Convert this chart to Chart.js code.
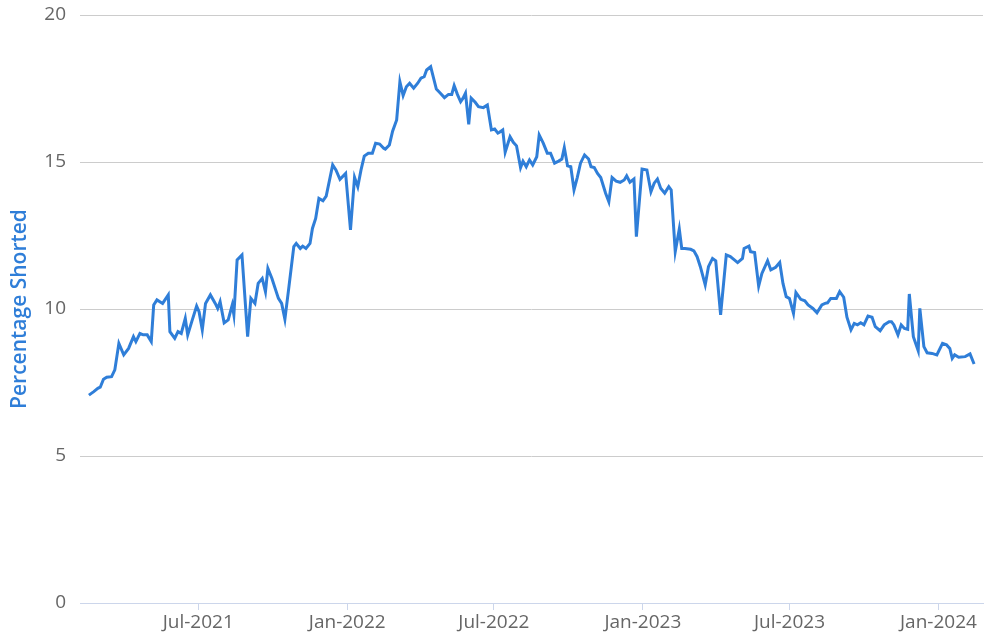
<!DOCTYPE html>
<html>
<head>
<meta charset="utf-8">
<script src="https://cdn.jsdelivr.net/npm/chart.js@4"></script>
<style>
  html, body { margin: 0; padding: 0; background: #fff; }
  #wrap { width: 1000px; height: 636px; }
</style>
</head>
<body>
<div id="wrap"><canvas id="myChart" width="1000" height="636"></canvas></div>
<script>
// Short interest readings
const dates = [
    "2021-02-16", "2021-02-22", "2021-02-27", "2021-03-02", "2021-03-06", "2021-03-10", "2021-03-16", "2021-03-20",
    "2021-03-25", "2021-03-31", "2021-04-06", "2021-04-12", "2021-04-15", "2021-04-20", "2021-04-24", "2021-04-29",
    "2021-05-04", "2021-05-07", "2021-05-11", "2021-05-18", "2021-05-25", "2021-05-27", "2021-06-02", "2021-06-06",
    "2021-06-10", "2021-06-15", "2021-06-18", "2021-06-23", "2021-06-29", "2021-07-02", "2021-07-06", "2021-07-10",
    "2021-07-16", "2021-07-22", "2021-07-25", "2021-07-28", "2021-08-02", "2021-08-07", "2021-08-12", "2021-08-14",
    "2021-08-18", "2021-08-24", "2021-08-31", "2021-09-04", "2021-09-09", "2021-09-13", "2021-09-18", "2021-09-22",
    "2021-09-25", "2021-09-30", "2021-10-08", "2021-10-12", "2021-10-16", "2021-10-21", "2021-10-27", "2021-10-30",
    "2021-11-04", "2021-11-07", "2021-11-11", "2021-11-16", "2021-11-19", "2021-11-23", "2021-11-27", "2021-12-02",
    "2021-12-06", "2021-12-14", "2021-12-18", "2021-12-23", "2021-12-30", "2022-01-05", "2022-01-10", "2022-01-14",
    "2022-01-18", "2022-01-22", "2022-01-27", "2022-02-01", "2022-02-05", "2022-02-10", "2022-02-15", "2022-02-17",
    "2022-02-22", "2022-02-26", "2022-03-03", "2022-03-07", "2022-03-11", "2022-03-15", "2022-03-19", "2022-03-24",
    "2022-03-29", "2022-04-02", "2022-04-06", "2022-04-09", "2022-04-14", "2022-04-21", "2022-04-26", "2022-05-01",
    "2022-05-06", "2022-05-10", "2022-05-13", "2022-05-17", "2022-05-21", "2022-05-24", "2022-05-27", "2022-05-31",
    "2022-06-03", "2022-06-08", "2022-06-12", "2022-06-18", "2022-06-23", "2022-06-28", "2022-07-02", "2022-07-06",
    "2022-07-08", "2022-07-12", "2022-07-15", "2022-07-21", "2022-07-25", "2022-07-29", "2022-08-03", "2022-08-06",
    "2022-08-10", "2022-08-14", "2022-08-18", "2022-08-23", "2022-08-26", "2022-08-31", "2022-09-05", "2022-09-09",
    "2022-09-14", "2022-09-19", "2022-09-23", "2022-09-26", "2022-09-30", "2022-10-04", "2022-10-08", "2022-10-12",
    "2022-10-16", "2022-10-21", "2022-10-26", "2022-10-29", "2022-11-02", "2022-11-06", "2022-11-10", "2022-11-16",
    "2022-11-20", "2022-11-24", "2022-11-29", "2022-12-04", "2022-12-09", "2022-12-12", "2022-12-16", "2022-12-21",
    "2022-12-24", "2022-12-31", "2023-01-06", "2023-01-11", "2023-01-15", "2023-01-19", "2023-01-23", "2023-01-28",
    "2023-02-02", "2023-02-05", "2023-02-10", "2023-02-15", "2023-02-18", "2023-02-22", "2023-03-01", "2023-03-05",
    "2023-03-09", "2023-03-13", "2023-03-19", "2023-03-23", "2023-03-28", "2023-04-01", "2023-04-07", "2023-04-14",
    "2023-04-19", "2023-04-24", "2023-04-28", "2023-05-04", "2023-05-06", "2023-05-12", "2023-05-14", "2023-05-19",
    "2023-05-24", "2023-05-28", "2023-06-04", "2023-06-08", "2023-06-14", "2023-06-19", "2023-06-23", "2023-06-27",
    "2023-07-01", "2023-07-06", "2023-07-09", "2023-07-15", "2023-07-20", "2023-07-24", "2023-07-30", "2023-08-04",
    "2023-08-10", "2023-08-14", "2023-08-17", "2023-08-21", "2023-08-28", "2023-09-01", "2023-09-06", "2023-09-10",
    "2023-09-15", "2023-09-19", "2023-09-23", "2023-09-27", "2023-10-01", "2023-10-06", "2023-10-11", "2023-10-15",
    "2023-10-21", "2023-10-26", "2023-11-01", "2023-11-04", "2023-11-07", "2023-11-12", "2023-11-16", "2023-11-20",
    "2023-11-24", "2023-11-26", "2023-12-01", "2023-12-07", "2023-12-09", "2023-12-14", "2023-12-18", "2023-12-24",
    "2023-12-30", "2024-01-06", "2024-01-11", "2024-01-15", "2024-01-18", "2024-01-21", "2024-01-26", "2024-02-03",
    "2024-02-09", "2024-02-14"
];

const shorted = [
    7.07, 7.19, 7.30, 7.34, 7.61, 7.68, 7.70, 7.93,
    8.83, 8.44, 8.66, 9.06, 8.89, 9.17, 9.12, 9.12,
    8.89, 10.14, 10.31, 10.19, 10.48, 9.23, 9.00, 9.23,
    9.17, 9.68, 9.12, 9.57, 10.10, 9.91, 9.29, 10.19,
    10.48, 10.19, 10.02, 10.25, 9.53, 9.63, 10.14, 9.80,
    11.67, 11.84, 9.06, 10.36, 10.19, 10.87, 11.04, 10.59,
    11.38, 11.04, 10.36, 10.19, 9.65, 10.76, 12.12, 12.23,
    12.06, 12.14, 12.06, 12.23, 12.74, 13.08, 13.76, 13.68,
    13.84, 14.90, 14.73, 14.41, 14.61, 12.69, 14.48, 14.16,
    14.73, 15.20, 15.30, 15.30, 15.64, 15.61, 15.47, 15.44,
    15.58, 16.05, 16.43, 17.73, 17.26, 17.56, 17.68, 17.51,
    17.68, 17.85, 17.90, 18.13, 18.24, 17.48, 17.34, 17.19,
    17.30, 17.30, 17.60, 17.30, 17.05, 17.17, 17.34, 16.28,
    17.17, 17.03, 16.88, 16.85, 16.94, 16.09, 16.12, 15.98,
    16.01, 16.09, 15.33, 15.86, 15.67, 15.55, 14.81, 15.03,
    14.84, 15.07, 14.90, 15.18, 15.92, 15.64, 15.30, 15.30,
    14.96, 15.03, 15.10, 15.49, 14.87, 14.84, 14.05, 14.47,
    14.96, 15.24, 15.10, 14.84, 14.81, 14.61, 14.47, 13.94,
    13.65, 14.47, 14.35, 14.31, 14.39, 14.53, 14.31, 14.42,
    12.46, 14.76, 14.73, 13.99, 14.28, 14.42, 14.11, 13.94,
    14.16, 14.05, 11.95, 12.72, 12.06, 12.06, 12.03, 11.98,
    11.78, 11.44, 10.82, 11.44, 11.72, 11.64, 9.80, 11.84,
    11.78, 11.67, 11.58, 11.72, 12.06, 12.14, 11.95, 11.92,
    10.78, 11.21, 11.64, 11.33, 11.42, 11.58, 10.87, 10.42,
    10.36, 9.85, 10.56, 10.33, 10.28, 10.14, 10.02, 9.87,
    10.14, 10.19, 10.21, 10.36, 10.36, 10.59, 10.40, 9.72,
    9.29, 9.51, 9.46, 9.53, 9.46, 9.76, 9.72, 9.40,
    9.26, 9.46, 9.57, 9.57, 9.46, 9.12, 9.46, 9.34,
    9.31, 10.51, 9.06, 8.58, 10.02, 8.72, 8.51, 8.49,
    8.44, 8.83, 8.78, 8.66, 8.32, 8.44, 8.36, 8.38,
    8.47, 8.13
];

const tickDates = ["2021-07-01", "2022-01-01", "2022-07-01", "2023-01-01", "2023-07-01", "2024-01-01"];
const tickLabels = ["Jul-2021", "Jan-2022", "Jul-2022", "Jan-2023", "Jul-2023", "Jan-2024"];
const yTicks = [0, 5, 10, 15, 20];

function toMs(s) {
    const [y, m, d] = s.split("-").map(Number);
    return Date.UTC(y, m - 1, d);
}

const points = dates.map((d, i) => ({ x: toMs(d), y: shorted[i] }));

const ctx = document.getElementById("myChart").getContext("2d");

new Chart(ctx, {
    type: "line",
    data: {
        datasets: [{
            label: "Percentage Shorted",
            data: points,
            borderColor: "#2f7ed8",
            borderWidth: 3,
            pointRadius: 0,
            tension: 0,
            fill: false
        }]
    },
    options: {
        responsive: false,
        animation: false,
        layout: { padding: { left: 0, right: 17, top: 15, bottom: 0 } },
        plugins: {
            legend: { display: false },
            tooltip: { enabled: false }
        },
        scales: {
            x: {
                type: "linear",
                min: toMs("2021-02-05"),
                max: toMs("2024-02-25"),
                afterBuildTicks: (scale) => {
                    scale.ticks = tickDates.map(d => ({ value: toMs(d) }));
                },
                afterFit: (scale) => { scale.height = 33; },
                grid: {
                    drawOnChartArea: false,
                    drawTicks: true,
                    tickLength: 7,
                    color: "#ccd6eb"
                },
                border: { display: true, color: "#ccd6eb", width: 1 },
                ticks: {
                    autoSkip: false,
                    maxRotation: 0,
                    padding: 1,
                    color: "#666666",
                    font: { family: "'Open Sans', sans-serif", size: 19 },
                    callback: (value, index) => tickLabels[index]
                }
            },
            y: {
                min: 0,
                max: 20,
                afterBuildTicks: (scale) => {
                    scale.ticks = yTicks.map(v => ({ value: v }));
                },
                afterFit: (scale) => {
                    scale.width = 80;
                    scale.paddingTop = 0;
                    scale.paddingBottom = 0;
                },
                grid: { color: "#cccccc", drawTicks: false },
                border: { display: false },
                ticks: {
                    padding: 14,
                    color: "#666666",
                    font: { family: "'Open Sans', sans-serif", size: 19 }
                },
                title: {
                    display: true,
                    text: "Percentage Shorted",
                    color: "#2f7ed8",
                    padding: { top: 7, bottom: 0 },
                    font: { family: "'Open Sans', sans-serif", size: 21, weight: "600" }
                }
            }
        }
    }
});
</script>
</body>
</html>
